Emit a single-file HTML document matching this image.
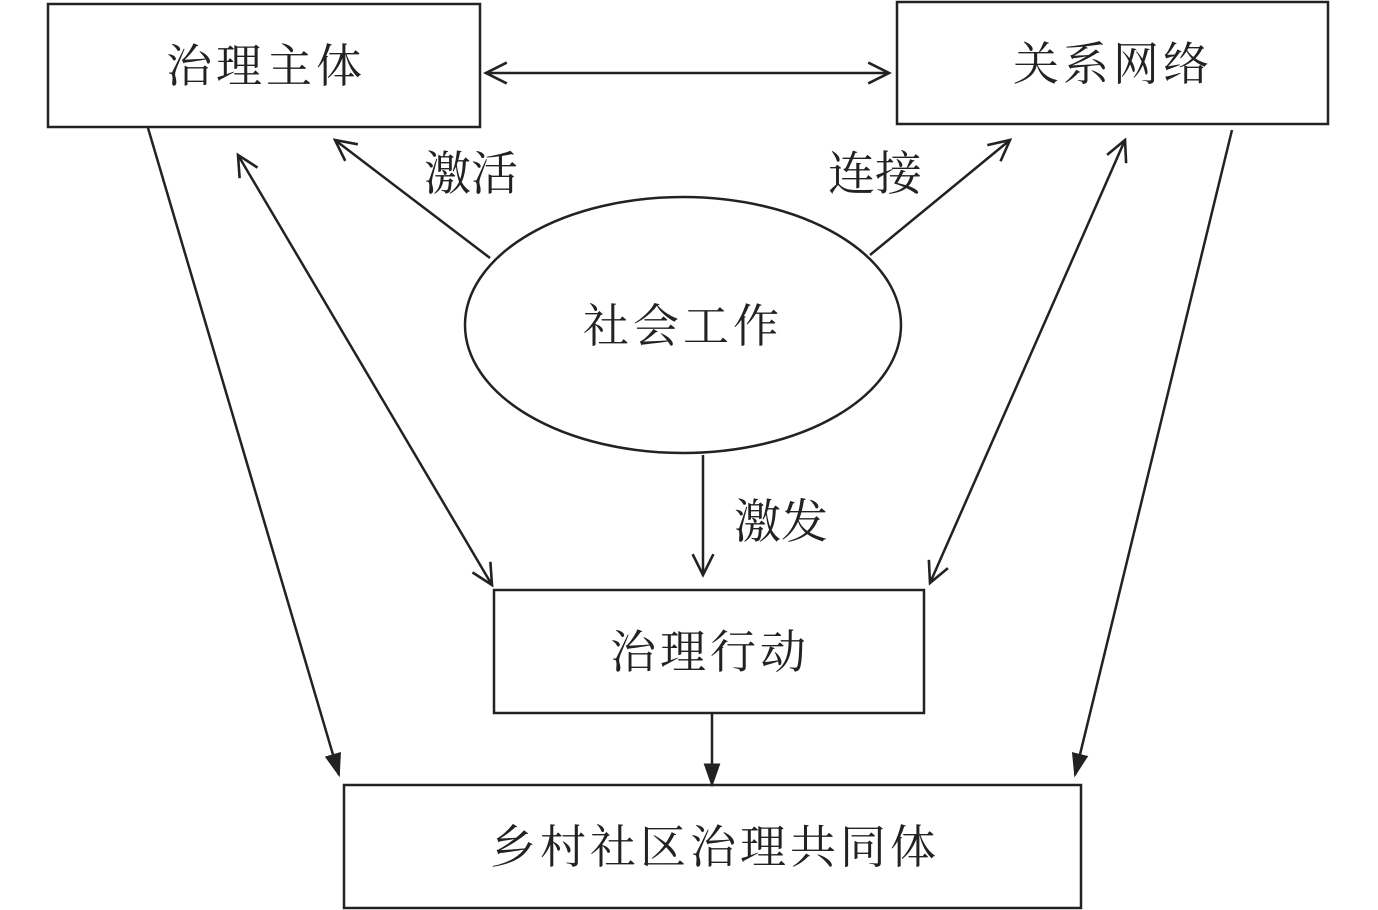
<!DOCTYPE html>
<html><head><meta charset="utf-8"><style>
html,body{margin:0;padding:0;background:#fff;}
svg{display:block}
text{font-family:"Liberation Serif","Noto Serif CJK SC",serif;fill:#222;}
</style></head><body>
<svg width="1378" height="910" viewBox="0 0 1378 910" xmlns="http://www.w3.org/2000/svg">
<defs>
<marker id="o" viewBox="0 0 20 20" refX="18" refY="10" markerWidth="26" markerHeight="26" markerUnits="userSpaceOnUse" orient="auto-start-reverse">
<path d="M2,2 L18,10 L2,18" fill="none" stroke="#222" stroke-width="2"/></marker>
<marker id="f" viewBox="0 0 20 20" refX="18" refY="10" markerWidth="24" markerHeight="24" markerUnits="userSpaceOnUse" orient="auto">
<path d="M0,3 L20,10 L0,17 Z" fill="#222"/></marker>
</defs>
<g fill="none" stroke="#222" stroke-width="2.5">
<rect x="48" y="4" width="432" height="123"/>
<rect x="897" y="2" width="431" height="122"/>
<ellipse cx="683" cy="325" rx="218" ry="128"/>
<rect x="494" y="590" width="430" height="123"/>
<rect x="344" y="785" width="737" height="123"/>
<line x1="486" y1="73" x2="889" y2="73" marker-start="url(#o)" marker-end="url(#o)"/>
<line x1="490" y1="258" x2="335" y2="140" marker-end="url(#o)"/>
<line x1="870" y1="255" x2="1010" y2="140" marker-end="url(#o)"/>
<line x1="703" y1="455" x2="703" y2="575" marker-end="url(#o)"/>
<line x1="238" y1="155" x2="492" y2="585" marker-start="url(#o)" marker-end="url(#o)"/>
<line x1="1125" y1="140" x2="930" y2="583" marker-start="url(#o)" marker-end="url(#o)"/>
<line x1="148" y1="128" x2="339" y2="775" marker-end="url(#f)"/>
<line x1="1232" y1="130" x2="1075" y2="775" marker-end="url(#f)"/>
<line x1="712" y1="713" x2="712" y2="785" marker-end="url(#f)"/>
</g>
<g font-size="46" text-anchor="middle">
<text x="266" y="82" letter-spacing="4">治理主体</text>
<text x="1113" y="80" letter-spacing="4">关系网络</text>
<text x="683" y="342" letter-spacing="4">社会工作</text>
<text x="710" y="668" letter-spacing="4">治理行动</text>
<text x="715" y="863" letter-spacing="4">乡村社区治理共同体</text>
</g>
<g font-size="47">
<text x="424" y="190">激活</text>
<text x="828" y="190">连接</text>
<text x="734" y="538">激发</text>
</g>
</svg>
</body></html>
